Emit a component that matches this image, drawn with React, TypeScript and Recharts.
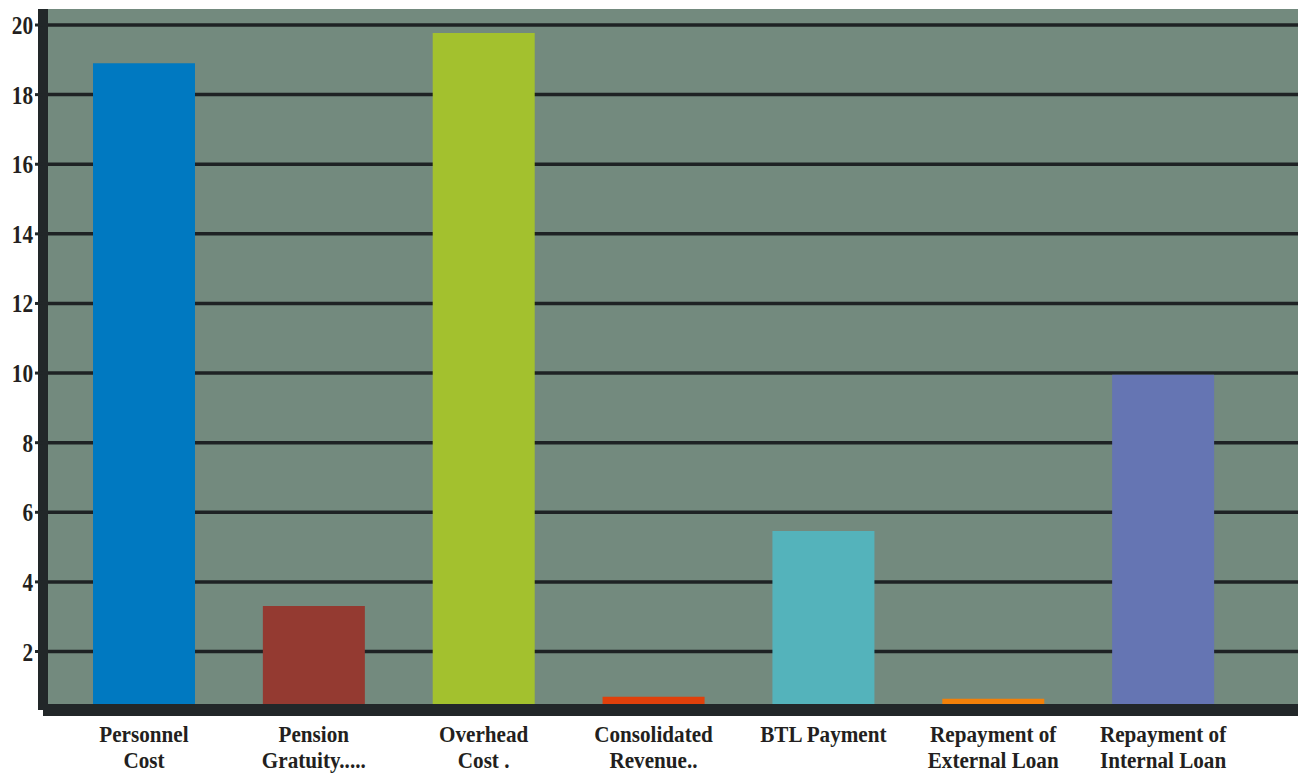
import React from "react";
import { BarChart, Bar, XAxis, YAxis, CartesianGrid, Cell } from "recharts";

const categories = [
	"Personnel\nCost",
	"Pension\nGratuity.....",
	"Overhead\nCost .",
	"Consolidated\nRevenue..",
	"BTL Payment",
	"Repayment of\nExternal Loan",
	"Repayment of\nInternal Loan",
];
const values = [18.9, 3.31, 19.77, 0.7, 5.46, 0.64, 9.95];
const barColors = ["#0079c1", "#943a31", "#a3c12e", "#e0400b", "#54b3bb", "#f28009", "#6575b3"];
const yTicks = [2, 4, 6, 8, 10, 12, 14, 16, 18, 20];
const yDomain: [number, number] = [0.32, 20.46];

const data = categories.map((name, i) => ({ name, value: values[i] }));

const ink = "#231f20";
const axisColor = "#222729";
const gridColor = "#1e2224";

// grid rows only at the labelled ticks (no line on the plot's top edge)
const gridRows = ({ offset }: any) => {
	const top = offset.top;
	const h = offset.height;
	return yTicks.map((t) => top + (h * (yDomain[1] - t)) / (yDomain[1] - yDomain[0]));
};

const XTick = (props: any) => {
	const { x, y, payload } = props;
	const lines = String(payload.value).split("\n");
	return (
		<g transform={`translate(${x},${y}) scale(0.9,1)`}>
			<text
				x={0}
				y={0}
				textAnchor="middle"
				fill={ink}
				fontFamily="'Liberation Serif', serif"
				fontWeight="bold"
				fontSize={23.5}
			>
				{lines.map((line, i) => (
					<tspan key={i} x={0} dy={i === 0 ? 24 : 26}>
						{line}
					</tspan>
				))}
			</text>
		</g>
	);
};

const YTick = (props: any) => {
	const { x, y, payload } = props;
	return (
		<g transform={`translate(${x},${y}) scale(0.85,1)`}>
			<text
				x={0}
				y={0}
				dy="0.36em"
				textAnchor="end"
				fill={ink}
				fontFamily="'Liberation Serif', serif"
				fontWeight="bold"
				fontSize={25}
			>
				{payload.value}
			</text>
		</g>
	);
};

export default function App() {
	return (
		<div style={{ position: "absolute", left: 0, top: 0 }}>
			<BarChart
				width={1300}
				height={776}
				data={data}
				margin={{ top: 9, right: 2, left: 0, bottom: 0 }}
			>
				<CartesianGrid
					horizontal={false}
					vertical={false}
					fill="#738a7e"
					fillOpacity={1}
					stroke="none"
				/>
				<CartesianGrid
					vertical={false}
					stroke={gridColor}
					strokeWidth={3.5}
					horizontalCoordinatesGenerator={gridRows}
				/>
				<Bar dataKey="value" barSize={102} isAnimationActive={false}>
					{data.map((d, i) => (
						<Cell key={d.name} fill={barColors[i]} />
					))}
				</Bar>
				<XAxis
					dataKey="name"
					height={66}
					padding={{ left: 16, right: 50 }}
					axisLine={{ stroke: axisColor, strokeWidth: 12 }}
					tickLine={false}
					interval={0}
					tick={<XTick />}
				/>
				<YAxis
					type="number"
					width={43}
					domain={yDomain}
					allowDataOverflow
					ticks={yTicks}
					tickSize={8}
					tickMargin={2}
					axisLine={{ stroke: axisColor, strokeWidth: 10 }}
					tickLine={{ stroke: axisColor, strokeWidth: 3 }}
					tick={<YTick />}
				/>
			</BarChart>
		</div>
	);
}
